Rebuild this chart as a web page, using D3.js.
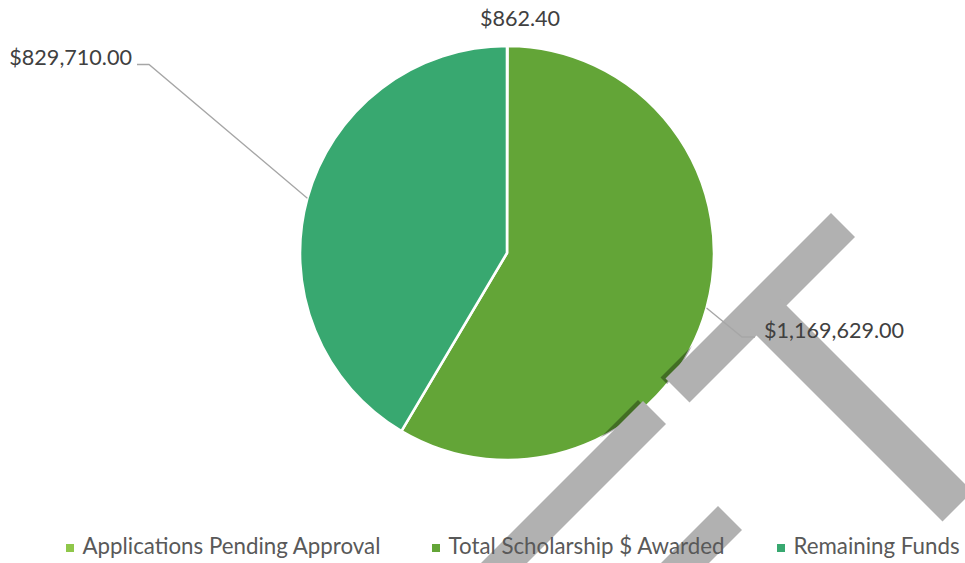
<!DOCTYPE html>
<html>
<head>
<meta charset="utf-8">
<script src="https://cdn.jsdelivr.net/npm/d3@7"></script>
<style>
  html, body { margin: 0; padding: 0; background: #ffffff; }
  svg { display: block; }
</style>
</head>
<body>
<svg id="chart" width="965" height="563"></svg>
<script>
// ---- data ----
const categories = ["Applications Pending Approval", "Total Scholarship $ Awarded", "Remaining Funds"];
const values = [862.40, 1169629.00, 829710.00];
const valueLabels = ["$862.40", "$1,169,629.00", "$829,710.00"];
const colors = ["#8fc74a", "#63a537", "#38a870"];

// ---- layout (presentation only) ----
const W = 965, H = 563;
const cx = 507, cy = 253, R = 207;
const fontFam = "Lato, 'Open Sans', sans-serif";
const labelPlace = [
  { x: 520, y: 26, anchor: "middle", leader: false },
  { x: 764, y: 338, anchor: "start", leader: true, elbowX: 742, elbowY: 337, endX: 755 },
  { x: 132, y: 65, anchor: "end", leader: true, elbowX: 149, elbowY: 64.5, endX: 137 }
];
// decorative grey watermark strokes present in the reference image
const watermark = [
  [[831,213],[855,237],[689.5,402.5],[665.5,378.5]],
  [[780.5,299.5],[972.5,491.5],[942.5,521.5],[750.5,329.5]],
  [[643,401],[666,424],[527,563],[481,563]],
  [[718,506],[742,530],[709,563],[661,563]]
];

const svg = d3.select("#chart");
const defs = svg.append("defs");
defs.append("clipPath").attr("id", "pieClip")
  .append("circle").attr("cx", cx).attr("cy", cy).attr("r", R);

const pie = d3.pie().sort(null).value(d => d).startAngle(0).endAngle(2 * Math.PI);
const arcs = pie(values);
const arc = d3.arc().innerRadius(0).outerRadius(R);

const g = svg.append("g").attr("transform", `translate(${cx},${cy})`);
g.selectAll("path.slice")
  .data(arcs)
  .join("path")
  .attr("class", "slice")
  .attr("d", arc)
  .attr("fill", (d, i) => colors[i])
  .attr("stroke", "#ffffff")
  .attr("stroke-width", 2.6)
  .attr("stroke-linejoin", "round");

// faint shadow of the watermark visible over the pie
svg.append("g").attr("clip-path", "url(#pieClip)")
  .selectAll("polygon")
  .data(watermark)
  .join("polygon")
  .attr("transform", "translate(-5,-1)")
  .attr("points", d => d.map(p => p.join(",")).join(" "))
  .attr("fill", "#000000")
  .attr("fill-opacity", 0.33);

// watermark shapes
svg.append("g").selectAll("polygon")
  .data(watermark)
  .join("polygon")
  .attr("points", d => d.map(p => p.join(",")).join(" "))
  .attr("fill", "#b1b1b1");

// leader lines + labels
const edge = d3.arc().innerRadius(R).outerRadius(R);
arcs.forEach((d, i) => {
  const lp = labelPlace[i];
  if (lp.leader) {
    const [ex, ey] = edge.centroid(d);
    svg.append("polyline")
      .attr("points", `${cx + ex},${cy + ey} ${lp.elbowX},${lp.elbowY} ${lp.endX},${lp.elbowY}`)
      .attr("fill", "none")
      .attr("stroke", "#a6a6a6")
      .attr("stroke-width", 1.3);
  }
  svg.append("text")
    .attr("x", lp.x)
    .attr("y", lp.y)
    .attr("text-anchor", lp.anchor)
    .attr("font-family", fontFam)
    .attr("font-size", 21.6)
    .attr("fill", "#404040")
    .text(valueLabels[i]);
});

// legend
const legendX = [66, 432, 777];
const legend = svg.append("g");
categories.forEach((c, i) => {
  legend.append("rect")
    .attr("x", legendX[i])
    .attr("y", 544)
    .attr("width", 8)
    .attr("height", 8)
    .attr("fill", colors[i]);
  legend.append("text")
    .attr("x", legendX[i] + 16.5)
    .attr("y", 554)
    .attr("font-family", fontFam)
    .attr("font-size", 22.3)
    .attr("fill", "#595959")
    .text(c);
});
</script>
</body>
</html>
